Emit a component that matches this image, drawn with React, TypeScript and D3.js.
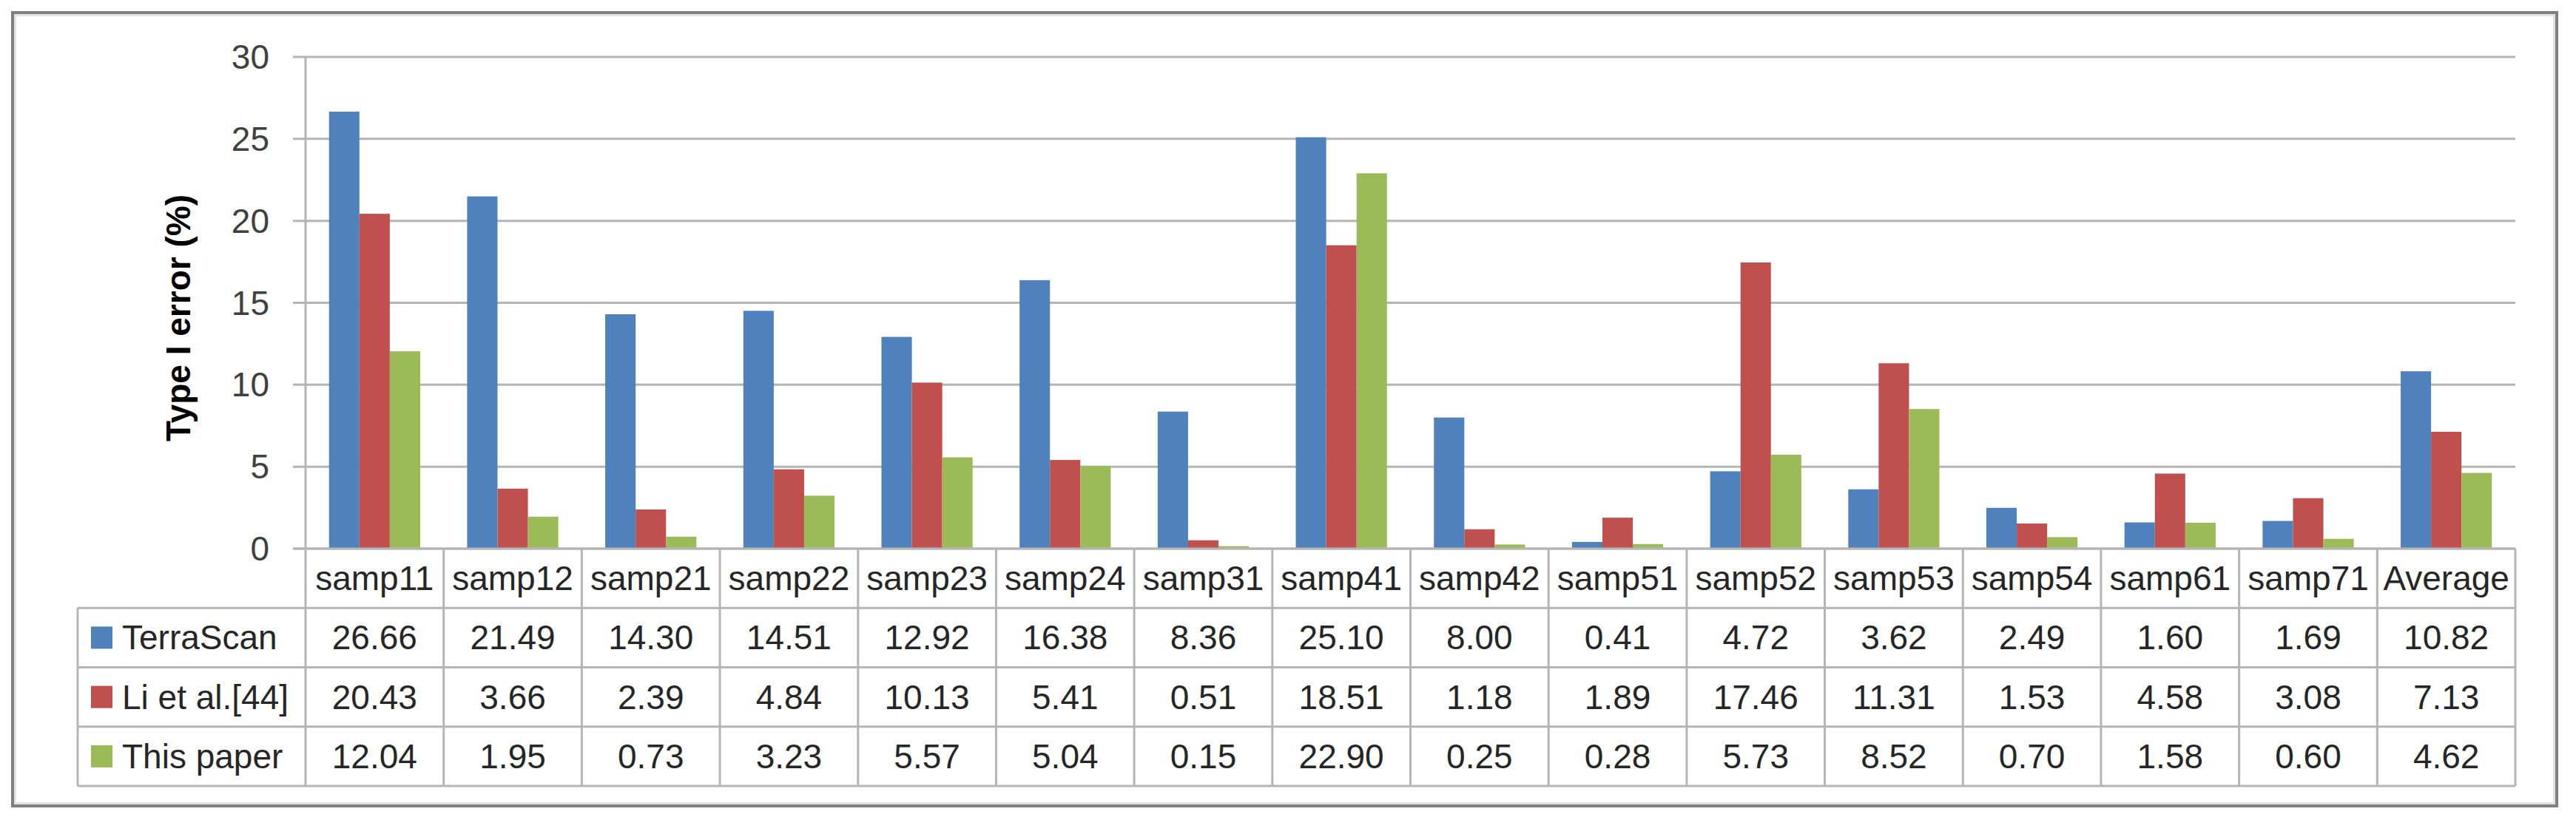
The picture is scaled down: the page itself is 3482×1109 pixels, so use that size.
import * as d3 from "d3";

const categories = [
  "samp11", "samp12", "samp21", "samp22", "samp23", "samp24", "samp31", "samp41",
  "samp42", "samp51", "samp52", "samp53", "samp54", "samp61", "samp71", "Average",
];
const seriesNames = ["TerraScan", "Li et al.[44]", "This paper"];
const terraScan = [26.66, 21.49, 14.3, 14.51, 12.92, 16.38, 8.36, 25.1, 8.0, 0.41, 4.72, 3.62, 2.49, 1.6, 1.69, 10.82];
const liEtAl = [20.43, 3.66, 2.39, 4.84, 10.13, 5.41, 0.51, 18.51, 1.18, 1.89, 17.46, 11.31, 1.53, 4.58, 3.08, 7.13];
const thisPaper = [12.04, 1.95, 0.73, 3.23, 5.57, 5.04, 0.15, 22.9, 0.25, 0.28, 5.73, 8.52, 0.7, 1.58, 0.6, 4.62];
const yTicks = [0, 5, 10, 15, 20, 25, 30];
const colors = ["#4f81bd", "#c0504d", "#9bbb59"];

const series = [terraScan, liEtAl, thisPaper];

export default function App() {
  const W = 3482;
  const H = 1109;
  const left = 413, right = 3400, top = 77, base = 742;
  const tableLeft = 105, tableBottom = 1063;
  const font = "'Liberation Sans', Arial, sans-serif";
  const fs = 46;
  const lineColor = "#b5b5b5";

  const y = d3.scaleLinear().domain([0, 30]).range([base, top]);
  const xCol = d3.scaleBand().domain(categories).range([left, right]);
  const xBar = d3.scaleBand().domain(categories).range([left, right]).paddingInner(0.34).paddingOuter(0.17);
  const xs = d3.scaleBand().domain(seriesNames).range([0, xBar.bandwidth()]);
  const rows = d3.scaleBand().domain(["header", ...seriesNames]).range([base, tableBottom]);
  const fmt = d3.format(".2f");

  return (
    <div style={{ position: "absolute", left: 0, top: 0 }}>
      <svg width={W} height={H} viewBox={`0 0 ${W} ${H}`} style={{ display: "block", background: "#fff" }}>
        {/* outer frame */}
        <rect x={17} y={17} width={3439} height={1073} fill="#fff" stroke="#808080" strokeWidth={4} />
        <rect x={20.5} y={20.5} width={3432} height={1066} fill="none" stroke="#e3e3e3" strokeWidth={3} />

        {/* gridlines + y ticks */}
        {yTicks.map((t) => (
          <g key={t}>
            <line x1={396} x2={right} y1={y(t)} y2={y(t)} stroke={lineColor} strokeWidth={3} />
            <text x={364} y={y(t)} dy="0.35em" textAnchor="end" fontFamily={font} fontSize={fs} fill="#404040">
              {t}
            </text>
          </g>
        ))}

        {/* y axis line */}
        <line x1={left} x2={left} y1={top} y2={base} stroke={lineColor} strokeWidth={3} />

        {/* y title */}
        <text
          transform={`translate(241, 430) rotate(-90)`}
          dy="0.35em"
          textAnchor="middle"
          fontFamily={font}
          fontSize={fs}
          fontWeight="bold"
          fill="#000"
        >
          Type I error (%)
        </text>

        {/* bars */}
        {categories.map((c, i) => (
          <g key={c} transform={`translate(${xBar(c)}, 0)`}>
            {seriesNames.map((s, k) => (
              <rect
                key={s}
                x={xs(s)}
                y={y(series[k][i])}
                width={xs.bandwidth()}
                height={base - y(series[k][i])}
                fill={colors[k]}
              />
            ))}
          </g>
        ))}

        {/* table grid */}
        <line x1={396} x2={right} y1={base} y2={base} stroke={lineColor} strokeWidth={3} />
        {seriesNames.map((s) => (
          <line key={s} x1={tableLeft} x2={right} y1={rows(s)} y2={rows(s)} stroke={lineColor} strokeWidth={3} />
        ))}
        <line x1={tableLeft} x2={right} y1={tableBottom} y2={tableBottom} stroke={lineColor} strokeWidth={3} />
        <line x1={tableLeft} x2={tableLeft} y1={rows(seriesNames[0])} y2={tableBottom} stroke={lineColor} strokeWidth={3} />
        {categories.map((c) => (
          <line key={c} x1={xCol(c)} x2={xCol(c)} y1={base} y2={tableBottom} stroke={lineColor} strokeWidth={3} />
        ))}
        <line x1={right} x2={right} y1={base} y2={tableBottom} stroke={lineColor} strokeWidth={3} />

        {/* category labels */}
        {categories.map((c) => (
          <text
            key={c}
            x={(xCol(c) as number) + xCol.bandwidth() / 2}
            y={(rows("header") as number) + rows.bandwidth() / 2}
            dy="0.35em"
            textAnchor="middle"
            fontFamily={font}
            fontSize={fs}
            fill="#262626"
          >
            {c}
          </text>
        ))}

        {/* legend + values */}
        {seriesNames.map((s, k) => {
          const cy = (rows(s) as number) + rows.bandwidth() / 2;
          return (
            <g key={s}>
              <rect x={123} y={cy - 15} width={29} height={30} fill={colors[k]} />
              <text x={165} y={cy} dy="0.35em" fontFamily={font} fontSize={fs} fill="#262626">
                {s}
              </text>
              {categories.map((c, i) => (
                <text
                  key={c}
                  x={(xCol(c) as number) + xCol.bandwidth() / 2}
                  y={cy}
                  dy="0.35em"
                  textAnchor="middle"
                  fontFamily={font}
                  fontSize={fs}
                  fill="#262626"
                >
                  {fmt(series[k][i])}
                </text>
              ))}
            </g>
          );
        })}
      </svg>
    </div>
  );
}
